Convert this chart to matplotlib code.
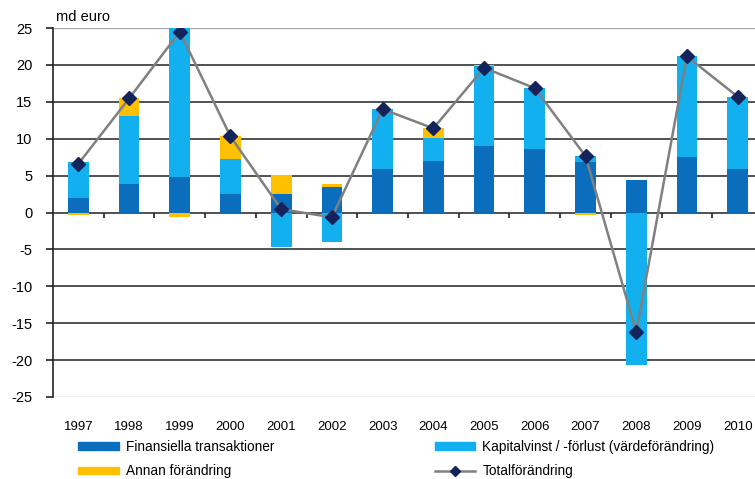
import matplotlib

matplotlib.use("Agg")
import matplotlib.pyplot as plt
import numpy as np
from matplotlib.lines import Line2D
from matplotlib.patches import Patch

plt.rcParams["font.family"] = ["Liberation Sans", "DejaVu Sans"]

years = ["1997", "1998", "1999", "2000", "2001", "2002", "2003",
         "2004", "2005", "2006", "2007", "2008", "2009", "2010"]
finansiella = [2.0, 3.8, 4.85, 2.45, 2.45, 3.5, 5.9, 7.0, 9.0, 8.55, 6.85, 4.4, 7.5, 5.9]
kapital = [4.8, 9.3, 20.15, 4.8, -4.65, -4.05, 8.1, 3.05, 10.8, 8.3, 0.85, -20.65, 13.65, 9.8]
annan = [-0.35, 2.4, -0.55, 3.05, 2.6, 0.3, 0.0, 1.35, 0.2, 0.0, -0.35, 0.0, 0.0, 0.0]
total = [6.6, 15.45, 24.5, 10.3, 0.45, -0.65, 14.0, 11.4, 19.6, 16.85, 7.65, -16.2, 21.15, 15.7]
y_ticks = [-25, -20, -15, -10, -5, 0, 5, 10, 15, 20, 25]

DARK_BLUE = "#0A6EBD"
LIGHT_BLUE = "#12B0EE"
YELLOW = "#FFC000"
LINE_GRAY = "#808080"
MARKER = "#14245A"
BAR_W = 0.41

fig = plt.figure(figsize=(7.55, 4.79), dpi=100)
ax = fig.add_axes([53 / 755, 82 / 479, 710 / 755, 369 / 479])

x = np.arange(len(years))
fin = np.array(finansiella)
kap = np.array(kapital)
ann = np.array(annan)

# stack positives upward and negatives downward separately
pos_base = np.zeros(len(x))
neg_base = np.zeros(len(x))
for vals, color in [(fin, DARK_BLUE), (kap, LIGHT_BLUE), (ann, YELLOW)]:
    bottoms = np.where(vals >= 0, pos_base, neg_base)
    ax.bar(x, vals, BAR_W, bottom=bottoms, color=color, linewidth=0, zorder=2)
    pos_base = pos_base + np.where(vals >= 0, vals, 0)
    neg_base = neg_base + np.where(vals < 0, vals, 0)

ax.plot(x, total, color=LINE_GRAY, linewidth=1.8, zorder=3,
        marker="D", markersize=7, markerfacecolor=MARKER, markeredgecolor=MARKER)

ax.set_xlim(-0.5, len(years) - 0.5)
ax.set_ylim(-25, 25)
ax.set_yticks(y_ticks)
ax.set_yticklabels([str(t) for t in y_ticks], fontsize=10.5)
ax.tick_params(axis="y", length=5, width=1.2, pad=10, color="#222222")
ax.set_xticks(x)
ax.set_xticklabels(years, fontsize=9.5)
ax.tick_params(axis="x", length=0, pad=17)

for t in y_ticks:
    edge = t in (-25, 25)
    ax.axhline(t, color="#AAAAAA" if edge else "#333333",
               linewidth=1.0 if edge else 1.2, zorder=1)

for side in ["top", "right", "bottom"]:
    ax.spines[side].set_visible(False)
ax.spines["left"].set_color("#222222")
ax.spines["left"].set_linewidth(1.2)

# small category ticks hanging below the zero line
bounds = x[:-1] + 0.5
ax.vlines(bounds, -0.7, 0, color="#222222", linewidth=1.2, zorder=1)

fig.text(56 / 755, 1 - 17 / 479, "md euro", fontsize=10.5, va="center", ha="left")

handles = [
    Patch(color=DARK_BLUE, label="Finansiella transaktioner"),
    Patch(color=YELLOW, label="Annan förändring"),
    Patch(color=LIGHT_BLUE, label="Kapitalvinst / -förlust (värdeförändring)"),
    Line2D([], [], color=LINE_GRAY, linewidth=1.8, marker="D", markersize=5,
           markerfacecolor=MARKER, markeredgecolor=MARKER, label="Totalförändring"),
]
fig.legend(handles=handles, ncol=2, loc="upper left",
           bbox_to_anchor=(78 / 755, 1 - 440 / 479), frameon=False,
           fontsize=9.8, handlelength=3.0, handleheight=0.45, handletextpad=0.5,
           labelspacing=0.75, columnspacing=11.8, borderaxespad=0, borderpad=0)

fig.savefig("out.png", dpi=100)
